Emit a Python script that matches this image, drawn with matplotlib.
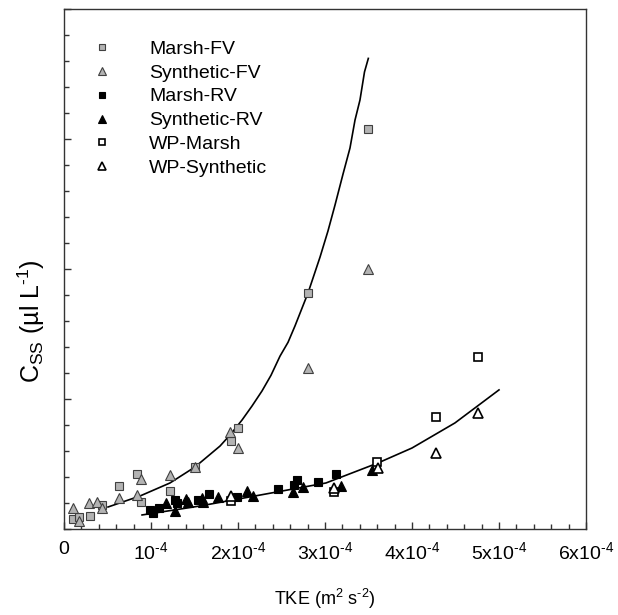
import matplotlib
matplotlib.use('Agg')
import matplotlib.pyplot as plt
import numpy as np
from matplotlib.ticker import MultipleLocator, FixedLocator

plt.rcParams['font.family'] = ['Liberation Sans', 'DejaVu Sans']
plt.rcParams['mathtext.fontset'] = 'custom'
plt.rcParams['mathtext.rm'] = 'Liberation Sans'
plt.rcParams['mathtext.it'] = 'Liberation Sans:italic'
plt.rcParams['mathtext.default'] = 'rm'

# TKE values in units of 1e-4 m2 s-2, Css in arbitrary axis units
marsh_fv_x = np.array([0.107, 0.176, 0.299, 0.433, 0.636, 0.836, 0.885, 1.218, 1.506, 1.916, 2.003, 2.808, 3.498])
marsh_fv_y = np.array([0.385, 0.45, 0.51, 0.92, 1.665, 2.10, 1.05, 1.47, 2.37, 3.40, 3.87, 9.07, 15.37])

synth_fv_x = np.array([0.107, 0.176, 0.291, 0.383, 0.433, 0.636, 0.836, 0.885, 1.218, 1.506, 1.908, 2.003, 2.801, 3.498])
synth_fv_y = np.array([0.80, 0.32, 0.99, 1.05, 0.82, 1.18, 1.31, 1.91, 2.08, 2.37, 3.74, 3.10, 6.18, 9.99])

marsh_rv_x = np.array([0.989, 1.026, 1.095, 1.276, 1.295, 1.544, 1.670, 1.985, 2.463, 2.647, 2.675, 2.923, 3.126])
marsh_rv_y = np.array([0.73, 0.63, 0.82, 1.115, 0.99, 1.115, 1.35, 1.24, 1.54, 1.69, 1.88, 1.82, 2.115])

synth_rv_x = np.array([1.172, 1.276, 1.402, 1.429, 1.583, 1.601, 1.774, 2.100, 2.176, 2.629, 2.751, 3.180, 3.537])
synth_rv_y = np.array([0.99, 0.70, 1.15, 1.05, 1.20, 1.03, 1.22, 1.47, 1.27, 1.41, 1.63, 1.665, 2.27])

wp_marsh_x = np.array([1.920, 3.103, 3.594, 4.276, 4.762])
wp_marsh_y = np.array([1.09, 1.41, 2.59, 4.32, 6.60])

wp_synth_x = np.array([1.920, 3.103, 3.606, 4.276, 4.762])
wp_synth_y = np.array([1.27, 1.565, 2.33, 2.91, 4.45])

# fitted curves
fv_fit_x = np.array([0.506, 0.874, 1.218, 1.506, 1.793, 1.908, 2.046, 2.161, 2.276, 2.379, 2.483, 2.575,
                     2.655, 2.805, 2.943, 3.034, 3.115, 3.207, 3.287, 3.345, 3.402, 3.454, 3.498])
fv_fit_y = np.array([0.846, 1.27, 1.77, 2.385, 3.19, 3.615, 4.19, 4.73, 5.31, 5.91, 6.65, 7.18,
                     7.81, 9.08, 10.46, 11.46, 12.46, 13.65, 14.65, 15.73, 16.5, 17.58, 18.10])

rv_fit_x = np.array([0.897, 1.563, 2.195, 3.011, 3.609, 4.0, 4.494, 5.0])
rv_fit_y = np.array([0.54, 0.885, 1.27, 1.77, 2.54, 3.115, 4.08, 5.35])

x_ticks = [0, 1, 2, 3, 4, 5, 6]
x_tick_labels = ['0', '10$^{\\text{-4}}$', '2x10$^{\\text{-4}}$', '3x10$^{\\text{-4}}$',
                 '4x10$^{\\text{-4}}$', '5x10$^{\\text{-4}}$', '6x10$^{\\text{-4}}$']

scale = 1e-4

fig = plt.figure(figsize=(6.18, 6.15), dpi=100)
ax = fig.add_axes([64 / 618, 86 / 615, 522 / 618, 520 / 615])

ax.plot(fv_fit_x * scale, fv_fit_y, color='black', lw=1.2, zorder=2)
ax.plot(rv_fit_x * scale, rv_fit_y, color='black', lw=1.2, zorder=2)

ms = 6.2
gray = '#b3b3b3'
edge = '#404040'
ax.plot(marsh_fv_x * scale, marsh_fv_y, 's', ms=ms, mfc=gray, mec=edge, mew=0.8, label='Marsh-FV', zorder=3)
ax.plot(synth_fv_x * scale, synth_fv_y, '^', ms=ms + 0.8, mfc=gray, mec=edge, mew=0.8, label='Synthetic-FV', zorder=3)
ax.plot(marsh_rv_x * scale, marsh_rv_y, 's', ms=ms, mfc='black', mec='black', mew=0.8, label='Marsh-RV', zorder=3)
ax.plot(synth_rv_x * scale, synth_rv_y, '^', ms=ms + 0.8, mfc='black', mec='black', mew=0.8, label='Synthetic-RV', zorder=3)
ax.plot(wp_marsh_x * scale, wp_marsh_y, 's', ms=ms, mfc='white', mec='black', mew=1.2, label='WP-Marsh', zorder=3)
ax.plot(wp_synth_x * scale, wp_synth_y, '^', ms=ms + 0.8, mfc='white', mec='black', mew=1.2, label='WP-Synthetic', zorder=3)

ax.set_xlim(0, 6e-4)
ax.set_ylim(0, 20)

ax.xaxis.set_major_locator(FixedLocator([t * scale for t in x_ticks]))
ax.set_xticklabels(x_tick_labels)
ax.xaxis.set_minor_locator(MultipleLocator(0.2e-4))
ax.yaxis.set_major_locator(MultipleLocator(5))
ax.yaxis.set_minor_locator(MultipleLocator(1))
ax.set_yticklabels([])

ax.tick_params(which='both', direction='in', top=False, right=False, color='#333333')
ax.tick_params(which='major', length=5, width=1, labelsize=14, pad=9)
ax.tick_params(which='minor', length=3.5, width=1)
for s in ax.spines.values():
    s.set_color('#333333')
    s.set_linewidth(1)

ax.set_xlabel('TKE (m$^2$ s$^{\\text{-2}}$)', fontsize=13, labelpad=17)
ax.set_ylabel('C$_{SS}$ (\u00b5l L$^{\\text{-1}}$)', fontsize=18)
ax.yaxis.set_label_coords(-0.032, 0.40)

ax.legend(loc='upper left', bbox_to_anchor=(0.054, 0.94), frameon=False, fontsize=14,
          borderpad=0, borderaxespad=0, handlelength=1, handletextpad=1.92,
          labelspacing=0.32, markerscale=0.8)

fig.savefig('out.png', dpi=100)
